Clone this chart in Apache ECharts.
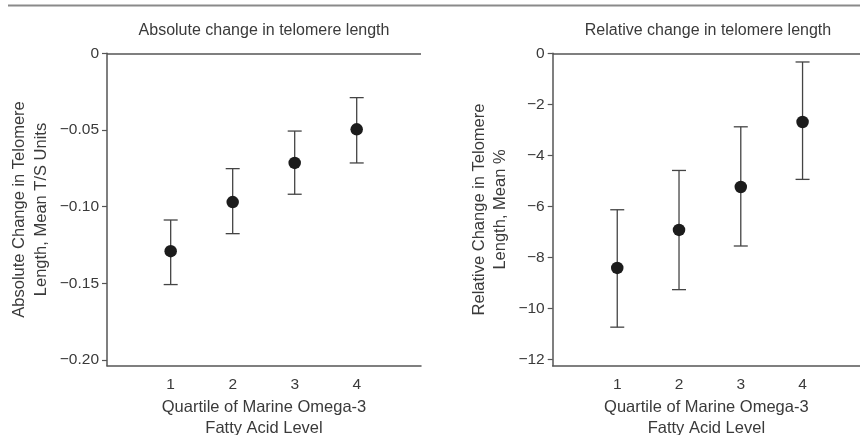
<!DOCTYPE html>
<html>
<head>
<meta charset="utf-8">
<script src="https://cdn.jsdelivr.net/npm/echarts@6/dist/echarts.min.js"></script>
<style>
html,body{margin:0;padding:0;background:#fff;}
#chart{width:860px;height:435px;}
</style>
</head>
<body>
<div id="chart"></div>
<script>
const quartiles = [1, 2, 3, 4];
const absMean = [-0.129, -0.097, -0.0715, -0.0496];
const absLow  = [-0.1508, -0.1176, -0.0919, -0.0715];
const absHigh = [-0.1087, -0.0752, -0.0507, -0.0289];
const relMean = [-8.41, -6.92, -5.24, -2.69];
const relLow  = [-10.73, -9.26, -7.55, -4.94];
const relHigh = [-6.13, -4.59, -2.88, -0.34];
const absTicks = [0, -0.05, -0.10, -0.15, -0.20];
const relTicks = [0, -2, -4, -6, -8, -10, -12];
const xTicks = [1, 2, 3, 4];

const FONT = 'Liberation Sans, Arial, Helvetica, sans-serif';
const TEXT = '#3a3a3a';
const AXIS = '#555';

const chart = echarts.init(document.getElementById('chart'), null, {renderer: 'canvas'});

function minusFmt(dec) {
  return function (v) {
    if (Math.abs(v) < 1e-9) return '0';
    const s = Math.abs(v).toFixed(dec);
    return (v < 0 ? '\u2212' : '') + s;
  };
}

function errRender(params, api) {
  const x = api.value(0);
  const lo = api.coord([x, api.value(1)]);
  const hi = api.coord([x, api.value(2)]);
  const half = 7;
  const st = {stroke: '#444', lineWidth: 1.3};
  return {
    type: 'group',
    children: [
      {type: 'line', shape: {x1: lo[0], y1: lo[1], x2: hi[0], y2: hi[1]}, style: st},
      {type: 'line', shape: {x1: lo[0] - half, y1: lo[1], x2: lo[0] + half, y2: lo[1]}, style: st},
      {type: 'line', shape: {x1: hi[0] - half, y1: hi[1], x2: hi[0] + half, y2: hi[1]}, style: st}
    ]
  };
}

function xAxisCfg(gi, min, max) {
  return {
    type: 'value', gridIndex: gi, min: min, max: max,
    axisLine: {show: true, onZero: false, lineStyle: {color: AXIS, width: 1.5}},
    axisTick: {show: false},
    splitLine: {show: false},
    axisLabel: {customValues: xTicks, color: TEXT, fontFamily: FONT, fontSize: 15.5, margin: 11},
    name: 'Quartile of Marine Omega-3\nFatty Acid Level',
    nameLocation: 'middle', nameGap: 31,
    nameTextStyle: {color: TEXT, fontFamily: FONT, fontSize: 16.5, lineHeight: 20.5}
  };
}

function yAxisCfg(gi, min, ticks, dec, name, gap) {
  return {
    type: 'value', gridIndex: gi, min: min, max: 0,
    axisLine: {show: true, onZero: false, lineStyle: {color: AXIS, width: 1.5}},
    axisTick: {show: true, customValues: ticks, length: 5, lineStyle: {color: AXIS, width: 1.2}},
    splitLine: {show: false},
    axisLabel: {customValues: ticks, formatter: minusFmt(dec), color: TEXT, fontFamily: FONT, fontSize: 15.5, margin: 8},
    name: name, nameLocation: 'middle', nameRotate: 90, nameGap: gap,
    nameTextStyle: {color: TEXT, fontFamily: FONT, fontSize: 16.5, lineHeight: 21.5}
  };
}

const zeroLine = {
  silent: true, symbol: 'none', animation: false,
  lineStyle: {color: AXIS, width: 1.5, type: 'solid'},
  label: {show: false},
  data: [{yAxis: 0}]
};

const option = {
  animation: false,
  backgroundColor: '#fff',
  graphic: [{
    type: 'line', shape: {x1: 8, y1: 5.5, x2: 860, y2: 5.5},
    style: {stroke: '#8a8a8a', lineWidth: 2}
  }],
  title: [
    {text: 'Absolute change in telomere length', left: 264, top: 23, textAlign: 'center', padding: 0,
     textStyle: {color: TEXT, fontFamily: FONT, fontSize: 16, fontWeight: 'normal'}},
    {text: 'Relative change in telomere length', left: 708, top: 23, textAlign: 'center', padding: 0,
     textStyle: {color: TEXT, fontFamily: FONT, fontSize: 16, fontWeight: 'normal'}}
  ],
  grid: [
    {left: 107, top: 53.3, width: 314, height: 312.4, outerBoundsMode: 'none', containLabel: false},
    {left: 552.7, top: 53.3, right: 0, height: 312.4, outerBoundsMode: 'none', containLabel: false}
  ],
  xAxis: [xAxisCfg(0, -0.027, 5.037), xAxisCfg(1, -0.045, 4.93)],
  yAxis: [
    yAxisCfg(0, -0.2037, absTicks, 2, 'Absolute Change in Telomere\nLength, Mean T/S Units', 55),
    yAxisCfg(1, -12.24, relTicks, 0, 'Relative Change in Telomere\nLength, Mean %', 41)
  ],
  series: [
    {type: 'custom', xAxisIndex: 0, yAxisIndex: 0, renderItem: errRender, z: 2,
     encode: {x: 0, y: [1, 2]},
     data: quartiles.map((q, i) => [q, absLow[i], absHigh[i]])},
    {type: 'scatter', xAxisIndex: 0, yAxisIndex: 0, symbolSize: 12.5, z: 3,
     itemStyle: {color: '#1c1c1c', opacity: 1},
     data: quartiles.map((q, i) => [q, absMean[i]]),
     markLine: zeroLine},
    {type: 'custom', xAxisIndex: 1, yAxisIndex: 1, renderItem: errRender, z: 2,
     encode: {x: 0, y: [1, 2]},
     data: quartiles.map((q, i) => [q, relLow[i], relHigh[i]])},
    {type: 'scatter', xAxisIndex: 1, yAxisIndex: 1, symbolSize: 12.5, z: 3,
     itemStyle: {color: '#1c1c1c', opacity: 1},
     data: quartiles.map((q, i) => [q, relMean[i]]),
     markLine: zeroLine}
  ]
};
chart.setOption(option);
</script>
</body>
</html>
